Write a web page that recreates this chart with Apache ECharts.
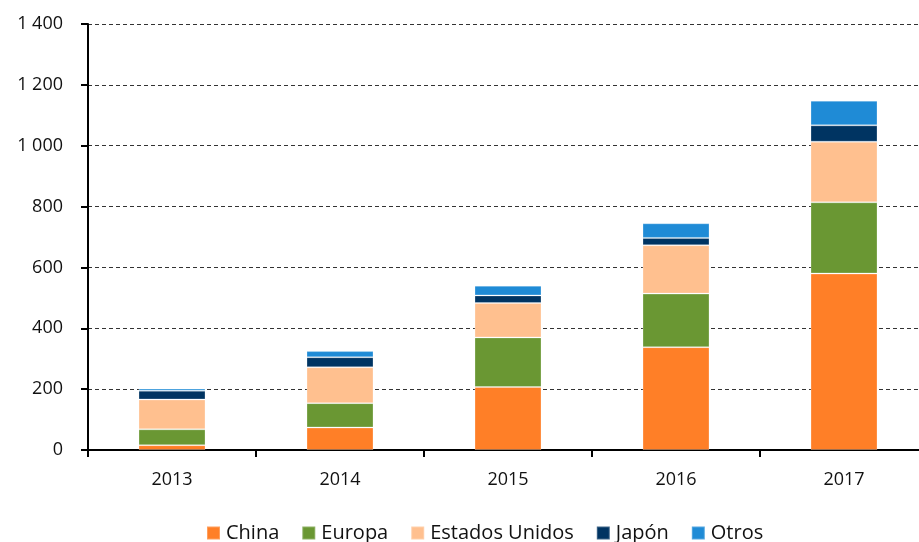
<!DOCTYPE html>
<html>
<head>
<meta charset="utf-8">
<script src="https://cdn.jsdelivr.net/npm/echarts@6/dist/echarts.min.js"></script>
<style>html,body{margin:0;padding:0;background:#fff;}#c{width:919px;height:542px;}</style>
</head>
<body>
<div id="c"></div>
<script>
const categories = ['2013', '2014', '2015', '2016', '2017'];
const china = [16, 74, 207, 338, 580];
const europa = [52, 80, 163, 176, 234];
const eeuu = [98, 118, 113, 159, 199];
const japon = [29, 33, 25, 24, 54];
const otros = [7, 20, 32, 48, 81];
const seriesNames = ['China', 'Europa', 'Estados Unidos', 'Japón', 'Otros'];
const seriesData = [china, europa, eeuu, japon, otros];
const colors = ['#FF7F27', '#6A9733', '#FFC08F', '#003462', '#1F8BD6'];

const font = '"Open Sans", "Noto Sans", sans-serif';
const chart = echarts.init(document.getElementById('c'), null, {renderer: 'canvas'});
chart.setOption({
  animation: false,
  backgroundColor: '#fff',
  grid: {left: 88, top: 24, width: 840, height: 426, containLabel: false, outerBoundsMode: 'none'},
  legend: {
    top: 518, left: 201,
    itemWidth: 13, itemHeight: 13, itemGap: 22,
    icon: 'rect',
    textStyle: {fontFamily: font, fontSize: 20, color: '#111', padding: [0, 0, 0, 1]},
    data: seriesNames
  },
  xAxis: {
    type: 'category',
    data: categories,
    axisLine: {lineStyle: {color: '#000', width: 2}},
    axisTick: {show: true, length: 7, lineStyle: {color: '#000', width: 2}},
    axisLabel: {fontFamily: font, fontSize: 18, color: '#111', margin: 21}
  },
  yAxis: {
    type: 'value',
    min: 0, max: 1400, interval: 200,
    axisLine: {show: true, lineStyle: {color: '#000', width: 2}},
    axisTick: {show: true, length: 7, lineStyle: {color: '#000', width: 2}},
    axisLabel: {
      fontFamily: font, fontSize: 18, color: '#111', margin: 25,
      formatter: v => v >= 1000 ? Math.floor(v / 1000) + ' ' + String(v % 1000).padStart(3, '0') : String(v)
    },
    splitLine: {show: true, lineStyle: {color: '#333', width: 1, type: [4, 3]}}
  },
  series: seriesNames.map((n, i) => ({
    name: n,
    type: 'bar',
    stack: 'total',
    barWidth: 67,
    data: seriesData[i],
    itemStyle: {color: colors[i], borderColor: 'rgba(255,255,255,0.25)', borderWidth: 1}
  }))
});
</script>
</body>
</html>
